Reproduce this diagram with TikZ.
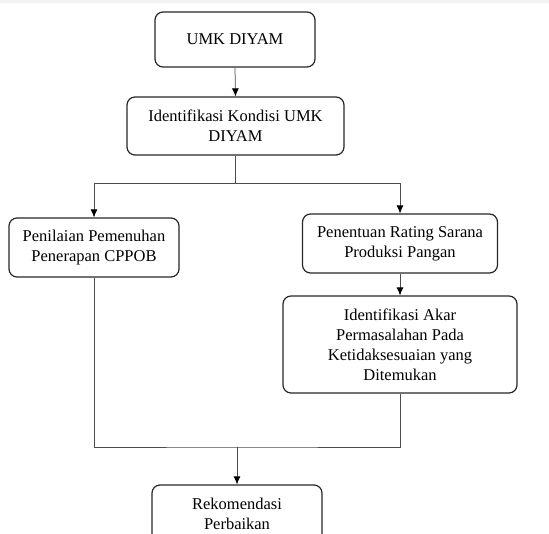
\documentclass[tikz,border=0pt]{standalone}
\usepackage{fontspec}
\setmainfont{Liberation Serif}
\newfontfamily\serfont{Liberation Serif}
\usetikzlibrary{arrows.meta}
\begin{document}
\begin{tikzpicture}[x=1pt,y=-1pt,
  box/.style={draw=black!85, line width=1.2pt, rounded corners=8pt, align=center,
    inner sep=2pt, font=\serfont\fontsize{16.5}{20}\selectfont, text=black},
  link/.style={draw=black!70, line width=0.75pt},
  arr/.style={link, -{Latex[length=8pt,width=7pt,fill=black,color=black]}}]
\useasboundingbox (0,0) rectangle (549,534);
\clip (0,0) rectangle (549,534);
\fill[black!5] (0,0) rectangle (549,3);
\node[box, minimum width=160pt, minimum height=55pt] (b1) at (235,39.5) {UMK DIYAM};
\node[box, minimum width=217pt, minimum height=58pt] (b2) at (235.5,126) {Identifikasi Kondisi UMK\\DIYAM};
\node[box, minimum width=170pt, minimum height=59pt] (b3) at (94,247.5) {Penilaian Pemenuhan\\Penerapan CPPOB};
\node[box, minimum width=195pt, minimum height=59pt] (b4) at (400,243.5) {Penentuan Rating Sarana\\Produksi Pangan};
\node[box, minimum width=234pt, minimum height=97pt] (b5) at (400,344.5) {Identifikasi Akar\\Permasalahan Pada\\Ketidaksesuaian yang\\Ditemukan};
\node[box, minimum width=170pt, minimum height=58pt] (b6) at (237,514) {Rekomendasi\\Perbaikan};
\coordinate (j1) at (235.5,183);
\coordinate (j2) at (237,447);
\draw[arr] (b1.south) -- (b2.north);
\draw[link] (b2.south) -- (j1);
\draw[arr] (j1) -| (b3.north);
\draw[arr] (j1) -| (b4.north);
\draw[arr] (b4.south) -- (b5.north);
\draw[link] (b3.south) |- (j2) -| (b5.south);
\draw[arr] (j2) -- (b6.north);
\end{tikzpicture}
\end{document}
